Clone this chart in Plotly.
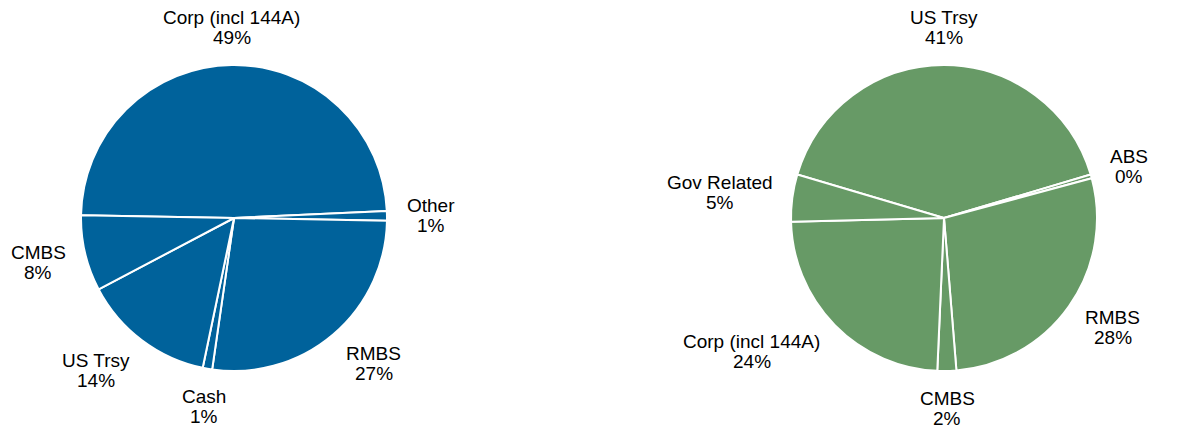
import math
import plotly.graph_objects as go

# Sector allocation, portfolio (left) and benchmark (right)
portfolio_labels = ["Corp (incl 144A)", "Other", "RMBS", "Cash", "US Trsy", "CMBS"]
portfolio_values = [49, 1, 27, 1, 14, 8]

benchmark_labels = ["US Trsy", "ABS", "RMBS", "CMBS", "Corp (incl 144A)", "Gov Related"]
benchmark_values = [41, 0.4, 28, 2, 24, 5]

W, H = 1183, 428
BLUE = "#00629B"
GREEN = "#679A66"
FONT_SIZE = 19
FONT = dict(family="Liberation Sans, Arial, sans-serif", size=FONT_SIZE, color="#000000")

# pie placement (paper fractions)
LEFT_DOMAIN = dict(x=[81 / W, 387 / W], y=[1 - 371 / H, 1 - 65 / H])
RIGHT_DOMAIN = dict(x=[791 / W, 1097 / W], y=[1 - 371 / H, 1 - 65 / H])
LEFT_ROT, RIGHT_ROT = 271, 286.5

# Arial / Liberation Sans advance widths (1/1000 em) for label text
ADVANCE = {
    " ": 278, "(": 333, ")": 333, "%": 889, "A": 667, "B": 667, "C": 722,
    "G": 778, "M": 833, "O": 778, "R": 722, "S": 667, "T": 611, "U": 722,
    "a": 556, "b": 556, "c": 500, "d": 556, "e": 556, "h": 556, "i": 222,
    "l": 222, "n": 556, "o": 556, "p": 556, "r": 333, "s": 500, "t": 278,
    "v": 500, "y": 500,
}


def text_width(s):
    return sum(ADVANCE.get(ch, 556) for ch in s) / 1000 * FONT_SIZE


def pie_trace(labels, values, color, rotation, domain):
    return go.Pie(
        labels=labels,
        values=values,
        sort=False,
        direction="clockwise",
        rotation=rotation,
        marker=dict(colors=[color] * len(values), line=dict(color="white", width=2)),
        textinfo="none",
        hoverinfo="label+percent",
        showlegend=False,
        domain=domain,
    )


def slice_labels(labels, values, rotation, domain, gap=20, line_gap=10, block_h=36):
    """Two-line name / percent labels placed just outside each slice's mid-angle."""
    cx = (domain["x"][0] + domain["x"][1]) / 2 * W
    cy = (1 - (domain["y"][0] + domain["y"][1]) / 2) * H
    r = min((domain["x"][1] - domain["x"][0]) * W, (domain["y"][1] - domain["y"][0]) * H) / 2
    total = sum(values)
    start = rotation
    notes = []
    for lab, v in zip(labels, values):
        span = v / total * 360
        mid = math.radians(start + span / 2)
        start += span
        ux, uy = math.sin(mid), math.cos(mid)
        px = cx + (r + gap) * ux
        py = cy - (r + gap) * uy
        pct = f"{v / total * 100:.0f}%"
        block_w = max(text_width(lab), text_width(pct))
        if ux > 0.3:
            block_x = px + block_w / 2
        elif ux < -0.3:
            block_x = px - block_w / 2
        else:
            block_x = px
        block_y = py - uy * block_h / 2
        for text, dy in ((lab, -line_gap), (pct, line_gap)):
            notes.append(dict(
                text=text,
                x=block_x / W,
                y=1 - (block_y + dy) / H,
                xref="paper",
                yref="paper",
                xanchor="center",
                yanchor="middle",
                showarrow=False,
                font=FONT,
            ))
    return notes


fig = go.Figure()
fig.add_trace(pie_trace(portfolio_labels, portfolio_values, BLUE, LEFT_ROT, LEFT_DOMAIN))
fig.add_trace(pie_trace(benchmark_labels, benchmark_values, GREEN, RIGHT_ROT, RIGHT_DOMAIN))

annotations = (
    slice_labels(portfolio_labels, portfolio_values, LEFT_ROT, LEFT_DOMAIN)
    + slice_labels(benchmark_labels, benchmark_values, RIGHT_ROT, RIGHT_DOMAIN)
)

fig.update_layout(
    width=W,
    height=H,
    margin=dict(l=0, r=0, t=0, b=0),
    paper_bgcolor="white",
    plot_bgcolor="white",
    font=FONT,
    annotations=annotations,
)

fig.write_html("out.html", include_plotlyjs=True, full_html=True)
